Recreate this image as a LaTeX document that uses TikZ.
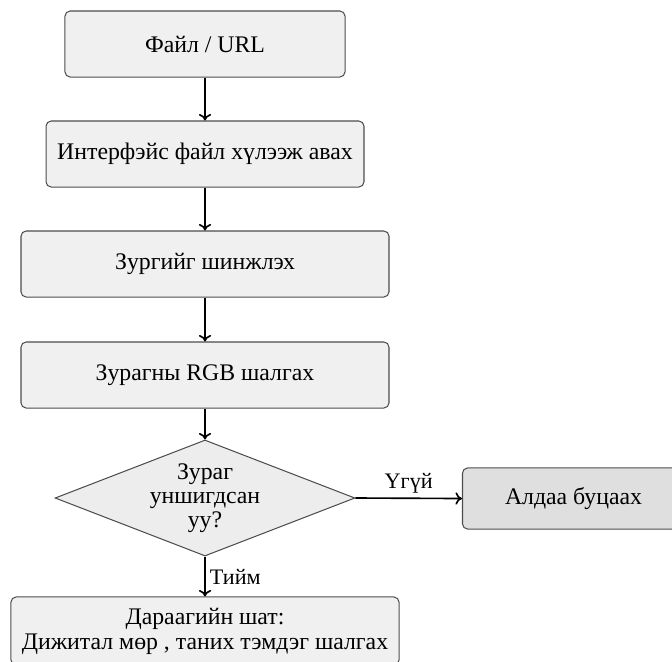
\documentclass[tikz,border=0pt]{standalone}
\usepackage{fontspec}
\setmainfont{Liberation Serif}
\usetikzlibrary{shapes.geometric,arrows.meta}

\begin{document}
\begin{tikzpicture}[x=0.4878pt, y=-0.4878pt,
  proc/.style={draw=black!70, line width=0.5pt, fill=gray!12,
    rounded corners=2.5pt, minimum height=32.2pt, align=center,
    inner sep=0pt, font=\fontsize{11.6}{12.2}\selectfont},
  errbox/.style={proc, fill=gray!25, minimum height=29.8pt},
  decision/.style={diamond, aspect=2.6, draw=black!70, line width=0.5pt,
    fill=gray!14, minimum width=146.3pt, minimum height=56.6pt,
    align=center, inner sep=0pt, font=\fontsize{11.6}{11.7}\selectfont},
  flow/.style={-{To[length=3.2pt,width=6pt]}, line width=0.8pt},
  tag/.style={font=\fontsize{10.8}{12}\selectfont, inner sep=2pt}
]
\useasboundingbox (0,0) rectangle (672,661);

% main column of steps
\node[proc, minimum width=136.6pt] (src)   at (205,44)  {Файл / URL};
\node[proc, minimum width=155.1pt] (recv)  at (205,154) {Интерфэйс файл хүлээж авах};
\node[proc, minimum width=179.5pt] (scan)  at (205,264) {Зургийг шинжлэх};
\node[proc, minimum width=179.5pt] (rgb)   at (205,375) {Зурагны RGB шалгах};
\node[decision] (read) at (205,498) {Зураг\\уншигдсан\\уу?};
\node[errbox, minimum width=108.3pt] (fail) at (573.5,498.5) {Алдаа буцаах};
\node[proc, minimum width=189.3pt, minimum height=33.2pt] (next) at (205,631)
  {Дараагийн шат:\\Дижитал мөр , таних тэмдэг шалгах};

% connectors
\draw[flow] (src) -- (recv);
\draw[flow] (recv) -- (scan);
\draw[flow] (scan) -- (rgb);
\draw[flow] (rgb) -- (read);
\draw[flow] (read.east) -- node[tag, above] {Үгүй} (fail.west);
\draw[flow] (read.south) -- node[tag, right] {Тийм} (next.north);
\end{tikzpicture}
\end{document}
